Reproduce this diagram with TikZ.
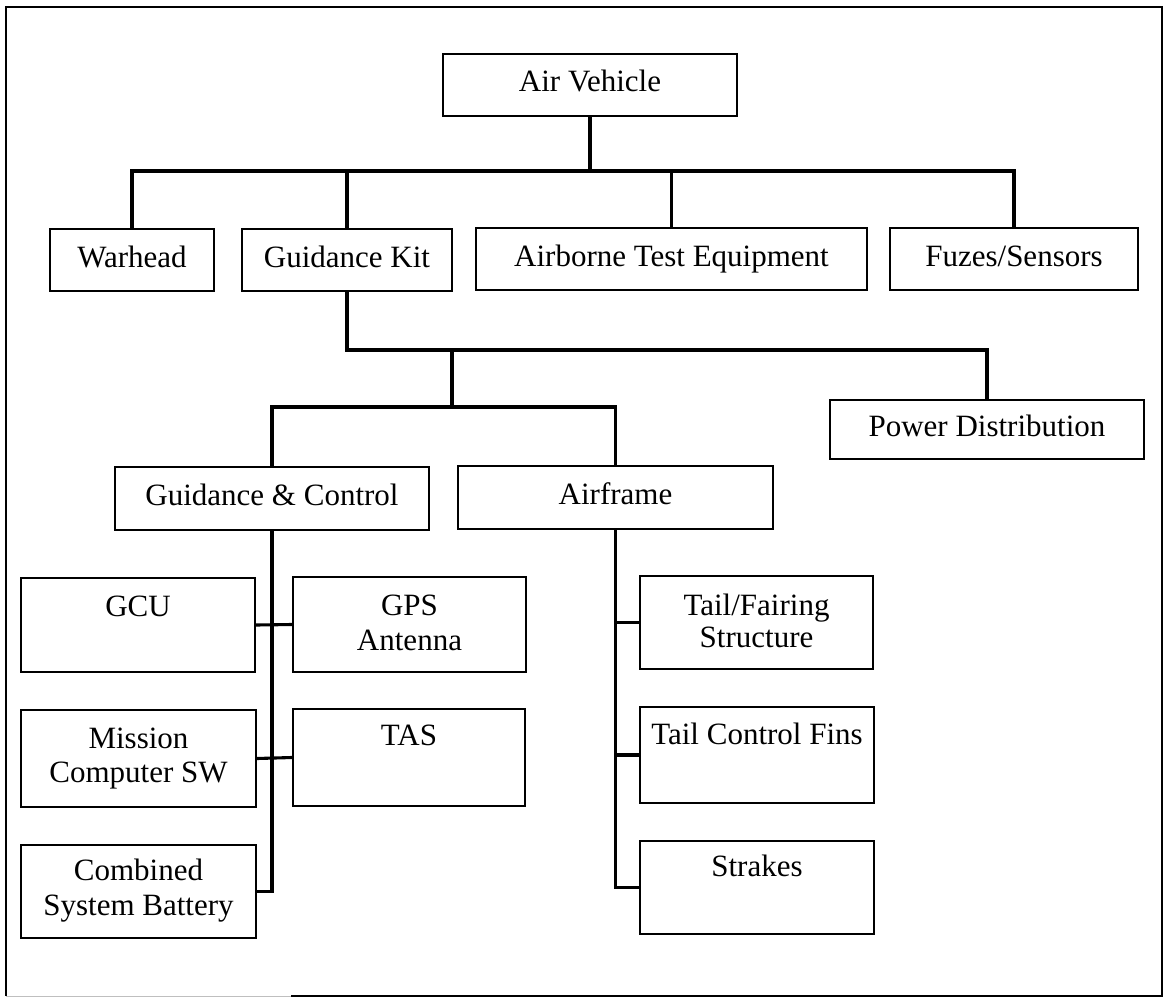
\documentclass[tikz,border=0pt]{standalone}
\usepackage{fontspec}
\setmainfont{Liberation Serif}
\begin{document}
\begin{tikzpicture}[x=1pt,y=-1pt,
  txt/.style={font=\fontsize{31}{35}\selectfont},
  box/.style={draw, line width=2.1pt, inner sep=0pt, text height=21pt, text depth=7pt, txt},
  lbl/.style={inner sep=0pt, anchor=base, txt},
  conn/.style={line width=3.1pt},
  frame/.style={line width=2.8pt}]
\useasboundingbox (0,0) rectangle (1167,998);

% outer frame
\draw[frame] (291,996) -- (1162,996) -- (1162,7) -- (6,7) -- (6,996);
\draw[line width=1pt, black!25] (6,996) -- (291,996);

% top level
\node[box, minimum width=294pt, minimum height=62pt] (av) at (590,85) {Air Vehicle};

% second level
\node[box, minimum width=164pt, minimum height=62pt] (wh)  at (132,260)   {Warhead};
\node[box, minimum width=210pt, minimum height=62pt] (gk)  at (347,260)   {Guidance Kit};
\node[box, minimum width=391pt, minimum height=62pt] (ate) at (671.5,259) {Airborne Test Equipment};
\node[box, minimum width=248pt, minimum height=62pt] (fz)  at (1014,259)  {Fuzes/Sensors};

% guidance kit breakdown
\node[box, minimum width=314pt, minimum height=59pt] (pd) at (987,429.5)   {Power Distribution};
\node[box, minimum width=314pt, minimum height=63pt] (gc) at (272,498.5)   {Guidance \& Control};
\node[box, minimum width=315pt, minimum height=63pt] (af) at (615.5,497.5) {Airframe};

% guidance & control items
\node[box, minimum width=234pt, minimum height=94pt] (gcu) at (138,625)     {};
\node[box, minimum width=233pt, minimum height=95pt] (gps) at (409.5,624.5) {};
\node[box, minimum width=235pt, minimum height=97pt] (ms)  at (138.5,758.5) {};
\node[box, minimum width=232pt, minimum height=97pt] (tas) at (409,757.5)   {};
\node[box, minimum width=235pt, minimum height=93pt] (cb)  at (138.5,891.5) {};

\node[lbl] (gcu-a) at ([yshift=-40pt]gcu.north) {GCU};
\node[lbl] (gps-a) at ([yshift=-40pt]gps.north) {GPS};
\node[lbl] (gps-b) at ([yshift=-75pt]gps.north) {Antenna};
\node[lbl] (ms-a)  at ([yshift=-40pt]ms.north)  {Mission};
\node[lbl] (ms-b)  at ([yshift=-74pt]ms.north)  {Computer SW};
\node[lbl] (tas-a) at ([yshift=-38pt]tas.north) {TAS};
\node[lbl] (cb-a)  at ([yshift=-37pt]cb.north)  {Combined};
\node[lbl] (cb-b)  at ([yshift=-72pt]cb.north)  {System Battery};

% airframe items
\node[box, minimum width=233pt, minimum height=93pt] (tf)  at (756.5,622.5) {};
\node[box, minimum width=234pt, minimum height=96pt] (tcf) at (757,755)     {};
\node[box, minimum width=234pt, minimum height=93pt] (st)  at (757,887.5)   {};

\node[lbl] (tf-a)  at ([yshift=-41pt]tf.north)  {Tail/Fairing};
\node[lbl] (tf-b)  at ([yshift=-73pt]tf.north)  {Structure};
\node[lbl] (tcf-a) at ([yshift=-39pt]tcf.north) {Tail Control Fins};
\node[lbl] (st-a)  at ([yshift=-37pt]st.north)  {Strakes};

% junction points
\coordinate (j1) at (590,171);
\coordinate (j2) at (347,350);
\coordinate (j3) at (452,350);
\coordinate (j4) at (452,407);

% connectors
\draw[conn] (av.south) -- (j1);
\draw[conn] (j1) -| (wh.north);
\draw[conn] (j1) -| (gk.north);
\draw[conn] (j1) -| (ate.north);
\draw[conn] (j1) -| (fz.north);

\draw[conn] (gk.south) -- (j2) -| (pd.north);
\draw[conn] (j3) -- (j4);
\draw[conn] (j4) -| (gc.north);
\draw[conn] (j4) -| (af.north);

\draw[conn] (gc.south) |- (cb.east);
\draw[conn] (gcu.east) -- (gps.west);
\draw[conn] (ms.east) -- (tas.west);

\draw[conn] (af.south) |- (st.west);
\draw[conn] (af.south |- tf.west) -- (tf.west);
\draw[conn] (af.south |- tcf.west) -- (tcf.west);
\end{tikzpicture}
\end{document}
